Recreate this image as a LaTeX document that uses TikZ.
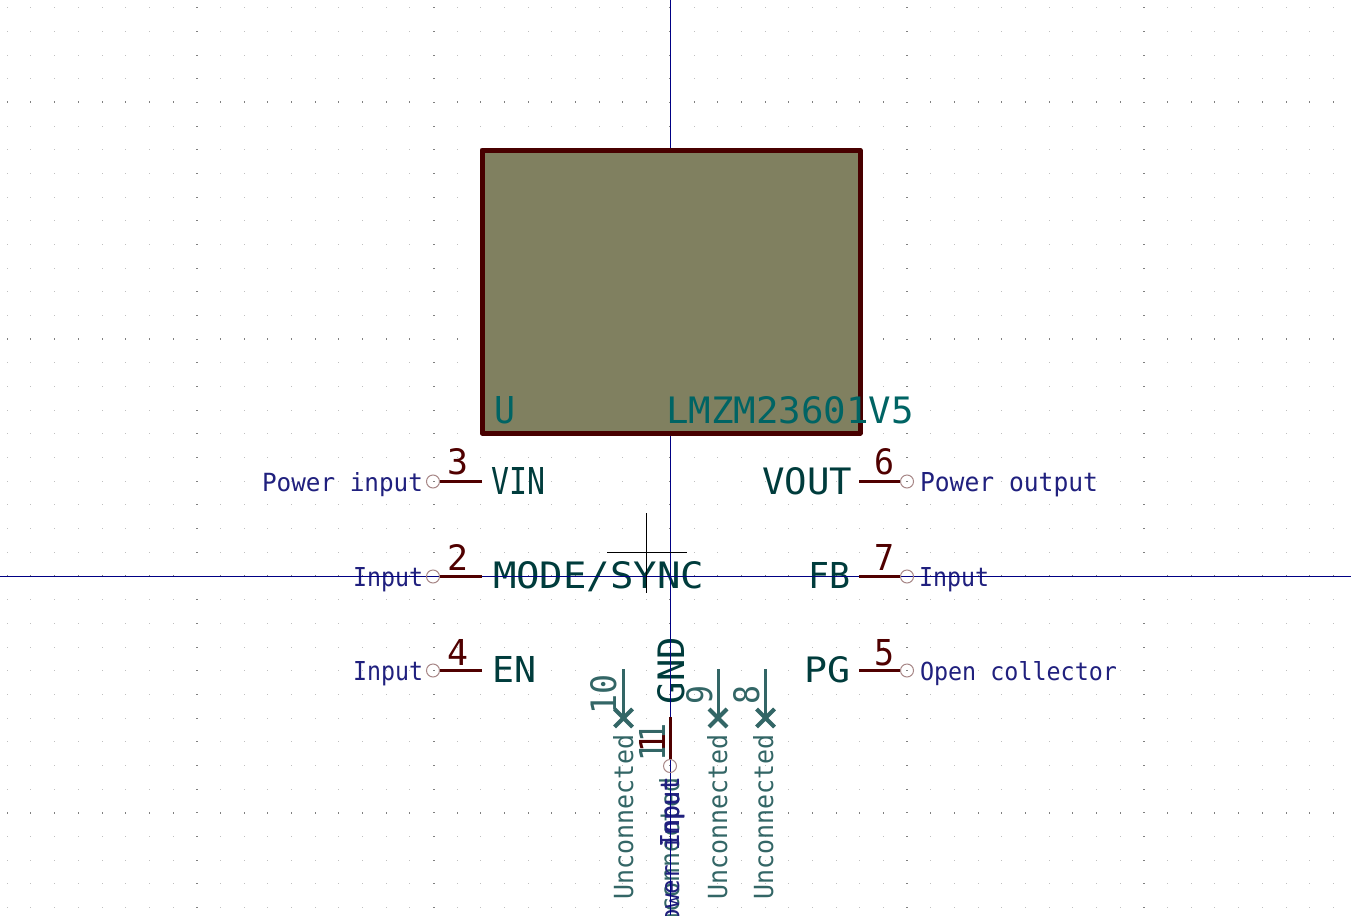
\documentclass[tikz,border=0pt]{standalone}
\usepackage{fontspec}
\usepackage{graphicx}
\setmainfont{DejaVu Sans Mono}
\usetikzlibrary{shapes.misc}
\definecolor{pinred}{HTML}{500000}
\definecolor{bodyline}{HTML}{480000}
\definecolor{bodyfill}{HTML}{808060}
\definecolor{refteal}{HTML}{006464}
\definecolor{namedark}{HTML}{003C3C}
\definecolor{typeblue}{HTML}{20207E}
\definecolor{ncteal}{HTML}{336666}
\definecolor{axisblue}{HTML}{000084}
\definecolor{ringcol}{HTML}{A88888}
\tikzset{
  x=1pt,y=-1pt,
  ktext/.style={inner sep=0pt,outer sep=0pt,anchor=base west},
  pinline/.style={draw=pinred,line width=3pt},
  ncline/.style={draw=ncteal,line width=3pt},
  pinring/.style={circle,draw=ringcol,line width=1pt,minimum size=13pt,inner sep=0pt,fill=none},
  xmark/.style={cross out,draw=ncteal,line width=4pt,minimum size=14pt,inner sep=0pt},
  axisline/.style={draw=axisblue,line width=1pt},
  crosshair/.style={draw=black,line width=0.8pt},
}
% name, colour, x, y (baseline start), width, height, text
\newcommand\kt[7]{\node[ktext,text=#2] (#1) at (#3,#4) {\resizebox{#5pt}{#6pt}{#7}};}
\newcommand\kv[7]{\node[ktext,text=#2,rotate=90] (#1) at (#3,#4) {\resizebox{#5pt}{#6pt}{#7}};}
\begin{document}
\begin{tikzpicture}
\useasboundingbox (0,0) rectangle (1351,915);
\clip (0,0) rectangle (1351,915);
\fill[white] (0,0) rectangle (1351,915);
% grid
\foreach \i in {0,...,56}{
  \foreach \j in {0,...,38}{
    \pgfmathsetmacro\gx{7.3+23.68*\i}
    \pgfmathsetmacro\gy{7.7+23.68*\j}
    \pgfmathtruncatemacro\mi{mod(\i+2,10)}
    \pgfmathtruncatemacro\mj{mod(\j+6,10)}
    \ifnum\mi=0
      \fill[black!50] (\gx-1,\gy-0.5) rectangle (\gx+1,\gy+0.5);
    \else
      \ifnum\mj=0
        \fill[black!50] (\gx-0.5,\gy-1) rectangle (\gx+0.5,\gy+1);
      \else
        \fill[black!25] (\gx-0.5,\gy-0.5) rectangle (\gx+0.5,\gy+0.5);
      \fi
    \fi
  }
}
% numbers
\kt{n3}{pinred}{447}{474}{21}{26}{3}
\kt{n2}{pinred}{447}{570}{21}{26}{2}
\kt{n4}{pinred}{447}{665}{21}{26}{4}
\kt{n6}{pinred}{874}{474}{20}{26}{6}
\kt{n7}{pinred}{874}{570}{20}{26}{7}
\kt{n5}{pinred}{874}{665}{20}{26}{5}
\kv{n10}{ncteal}{616}{714}{40}{26}{10}
\kv{n9}{ncteal}{712}{704}{19}{26}{9}
\kv{n8}{ncteal}{759}{704}{19}{26}{8}
\kv{n11}{ncteal}{665}{761}{38}{26}{11}
\kv{n1}{pinred}{665}{752}{19}{26}{1}
% names
\kt{tvin}{namedark}{491}{494}{54}{27}{VIN}
\kt{tmode}{namedark}{493}{588}{211}{27}{MODE/SYNC}
\kt{ten}{namedark}{492}{682}{44}{26}{EN}
\kt{tvout}{namedark}{762}{494}{90}{27}{VOUT}
\kt{tfb}{namedark}{808}{588}{42}{26}{FB}
\kt{tpg}{namedark}{804}{682}{46}{26}{PG}
\kv{tgnd}{namedark}{684}{704}{67}{27}{GND}
% electrical types
\kt{ta}{typeblue}{262}{491}{161}{19}{Power input}
\kt{tb}{typeblue}{353}{586}{70}{19}{Input}
\kt{tc}{typeblue}{353}{680}{70}{19}{Input}
\kt{td}{typeblue}{920}{491}{178}{19}{Power output}
\kt{te}{typeblue}{919}{586}{70}{19}{Input}
\kt{tf}{typeblue}{920}{680}{197}{19}{Open collector}
\kv{tg}{ncteal}{633}{899}{165}{20}{Unconnected}
\kv{th}{ncteal}{727}{899}{165}{20}{Unconnected}
\kv{ti}{ncteal}{773}{899}{165}{20}{Unconnected}
\kv{tj}{ncteal}{679}{942}{165}{20}{Unconnected}
\kv{tk}{typeblue}{679}{938}{161}{19}{Power input}
\kv{tl}{typeblue}{679}{847}{70}{19}{Input}
% axes
\draw[axisline] (670,0) -- (670,915);
\draw[axisline] (0,576.5) -- (1351,576.5);
% crosshair
\draw[crosshair] (646,513) -- (646,593);
\draw[crosshair] (607,552.5) -- (687,552.5);
% left and right pins
\coordinate (p3) at (482,481);
\coordinate (p2) at (482,576);
\coordinate (p4) at (482,670);
\coordinate (p6) at (859,481);
\coordinate (p7) at (859,576);
\coordinate (p5) at (859,670);
\node[pinring] (c3) at (433,481.5) {};
\node[pinring] (c2) at (433,576.5) {};
\node[pinring] (c4) at (433,670.5) {};
\node[pinring] (c6) at (907,481.5) {};
\node[pinring] (c7) at (907,576.5) {};
\node[pinring] (c5) at (907,670.5) {};
\draw[pinline] (p3) -- (c3.east |- p3);
\draw[pinline] (p2) -- (c2.east |- p2);
\draw[pinline] (p4) -- (c4.east |- p4);
\draw[pinline] (p6) -- (c6.west |- p6);
\draw[pinline] (p7) -- (c7.west |- p7);
\draw[pinline] (p5) -- (c5.west |- p5);
% bottom pins
\coordinate (q10) at (623.5,669);
\coordinate (q9) at (718,669);
\coordinate (q8) at (765.5,669);
\node[xmark] (x10) at (623.5,718) {};
\node[xmark] (x9) at (718,718) {};
\node[xmark] (x8) at (765.5,718) {};
\draw[ncline] (q10) -- (x10.center);
\draw[ncline] (q9) -- (x9.center);
\draw[ncline] (q8) -- (x8.center);
\coordinate (q11) at (670,717);
\node[pinring] (c11) at (670,766) {};
\draw[pinline] (q11) -- (c11.north);
% body
\draw[draw=bodyline,fill=bodyfill,line width=5pt,line join=round] (482,150) rectangle (860,433);
\kt{tu}{refteal}{494}{423}{21}{27}{U}
\kt{tv}{refteal}{666}{423}{248}{27}{LMZM23601V5}
\end{tikzpicture}
\end{document}
